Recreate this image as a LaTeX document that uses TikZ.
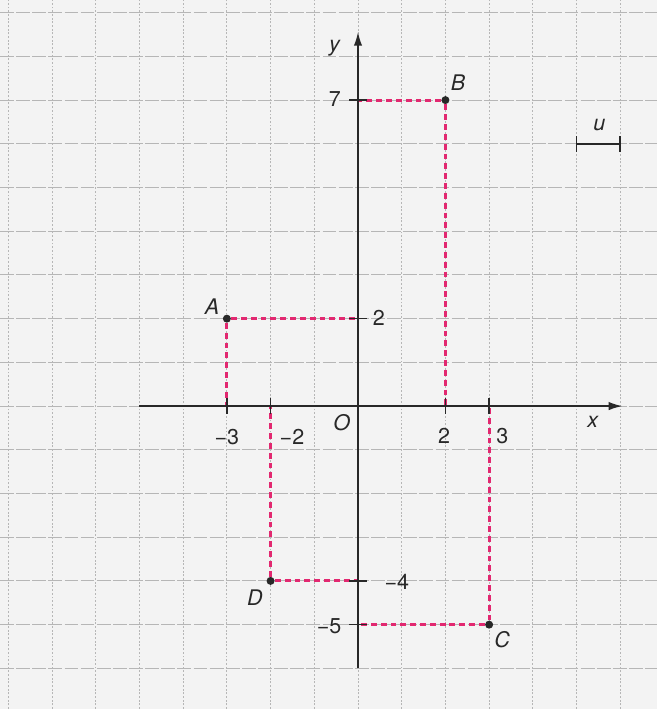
\documentclass[tikz,border=0pt]{standalone}
\usepackage{fontspec}
\setmainfont{TeX Gyre Heros}
\usetikzlibrary{arrows.meta}
\definecolor{paper}{RGB}{243,243,243}
\definecolor{gridc}{RGB}{182,182,182}
\definecolor{mag}{RGB}{226,40,112}
\definecolor{ink}{RGB}{40,40,40}
\begin{document}
\begin{tikzpicture}[
  font=\fontsize{14}{16}\selectfont,
  axisline/.style={ink, line width=1.1pt},
  tickline/.style={ink, line width=1pt},
  guide/.style={mag, line width=2pt, dash pattern=on 3.8pt off 2.6pt},
  dot/.style={circle, fill=ink, inner sep=0pt, minimum size=5.2pt},
  lbl/.style={text=ink, inner sep=0pt},
  vgrid/.style={gridc, line width=0.6pt, dash pattern=on 1.2pt off 1.2pt},
  hgrid/.style={gridc, line width=0.6pt, dash pattern=on 9pt off 1.5pt},
]
\fill[paper] (-8.19,-6.93) rectangle (6.84,9.29);
\useasboundingbox (-8.19,-6.93) rectangle (6.84,9.29);
% grid
\foreach \i in {-8,...,6} \draw[vgrid] (\i,-6.93) -- (\i,9.29);
\foreach \j in {-6,...,9} \draw[hgrid] (-8.19,\j) -- (6.84,\j);
% points
\node[dot] (A) at (-3,2) {};
\node[dot] (B) at (2,7) {};
\node[dot] (C) at (3,-5) {};
\node[dot] (D) at (-2,-4) {};
% feet on axes
\coordinate (Ax) at (-3,0); \coordinate (Ay) at (0,2);
\coordinate (Bx) at (2,0);  \coordinate (By) at (0,7);
\coordinate (Cx) at (3,0);  \coordinate (Cy) at (0,-5);
\coordinate (Dx) at (-2,0); \coordinate (Dy) at (0,-4);
% dashed guides
\draw[guide] (A) -- (Ay);
\draw[guide] (A) -- (Ax);
\draw[guide] (B) -- (By);
\draw[guide] (B) -- (Bx);
\draw[guide] (C) -- (Cy);
\draw[guide] (C) -- (Cx);
\draw[guide] (D) -- (Dy);
\draw[guide] (D) -- (Dx);
% axes
\coordinate (xs) at (-5,0); \coordinate (xe) at (6.05,0);
\coordinate (ys) at (0,-6); \coordinate (ye) at (0,8.56);
\draw[axisline,-{Latex[length=9pt,width=5.5pt]}] (xs) -- (xe);
\draw[axisline,-{Latex[length=9pt,width=5.5pt]}] (ys) -- (ye);
% ticks
\foreach \t in {-3,-2,2,3} \draw[tickline] (\t,-0.18) -- (\t,0.18);
\foreach \t in {7,2,-4,-5} \draw[tickline] (-0.2,\t) -- (0.2,\t);
% labels
\node[lbl] (ylab) at (-0.53,8.19) {\textit{y}};
\node[lbl] (xlab) at (5.38,-0.37) {\textit{x}};
\node[lbl] (olab) at (-0.37,-0.37) {\textit{O}};
\node[lbl] (lxm3) at (-3.0,-0.71) {−3};
\node[lbl] (lxm2) at (-1.51,-0.71) {−2};
\node[lbl] (lx2) at (1.97,-0.69) {2};
\node[lbl] (lx3) at (3.30,-0.69) {3};
\node[lbl] (ly7) at (-0.53,7.03) {7};
\node[lbl] (ly2) at (0.48,2.01) {2};
\node[lbl] (lym4) at (0.89,-4.03) {−4};
\node[lbl] (lym5) at (-0.66,-5.03) {−5};
\node[lbl] (lA) at (-3.34,2.27) {\textit{A}};
\node[lbl] (lB) at (2.29,7.39) {\textit{B}};
\node[lbl] (lC) at (3.30,-5.35) {\textit{C}};
\node[lbl] (lD) at (-2.36,-4.39) {\textit{D}};
% unit bar
\coordinate (u1) at (5,6); \coordinate (u2) at (6,6);
\draw[tickline] (u1) -- (u2);
\draw[tickline] (5,5.82) -- (5,6.18);
\draw[tickline] (6,5.82) -- (6,6.18);
\node[lbl] (ulab) at (5.52,6.43) {\textit{u}};
\end{tikzpicture}
\end{document}
